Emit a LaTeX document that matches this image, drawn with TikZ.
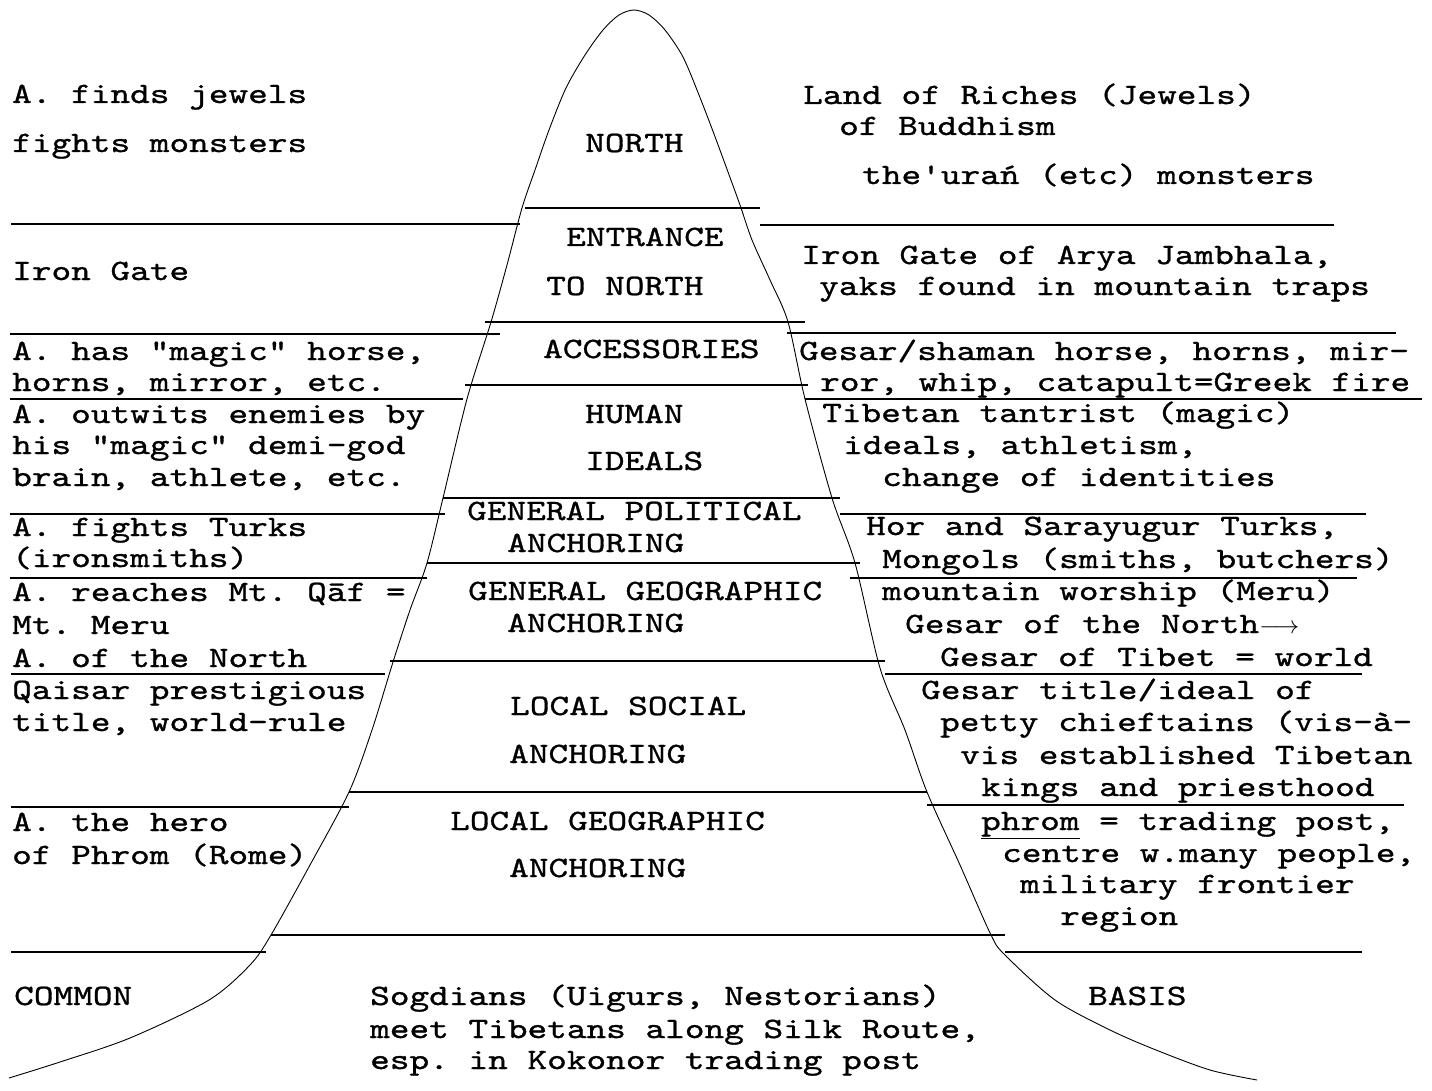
\documentclass[tikz,border=0pt]{standalone}
\usepackage{fontspec}
\newfontfamily\tw{lmmono10-regular.otf}[FakeStretch=1.27,FakeBold=1]
\begin{document}
\frenchspacing
\begin{tikzpicture}[x=1pt,y=-1pt,
  txt/.style={anchor=base west,inner sep=0pt,font=\tw\fontsize{29.5}{32}\selectfont},
  rule/.style={line width=1.6pt},
  bell/.style={line width=0.9pt,line join=round}]
\useasboundingbox (0,0) rectangle (1432,1091);
% bell curve
\draw[bell] plot[smooth,tension=0.5] coordinates{
 (9,1078) (60,1062) (130,1038) (209,1000) (250,965) (271,935) (310,865)
 (349,792) (372,730) (393,662) (410,610) (427,563) (443,498) (467,399)
 (491,322) (507,265) (522,208) (535,170) (549,130) (566,88) (585,55)
 (603,30) (619,15) (634,10) (649,15) (665,30) (683,57) (699,95)
 (714,134) (728,172) (740,205) (752,240) (770,280) (788,322)
 (805,399) (832,498) (855,563) (880,668) (905,730) (927,792) (960,865)
 (991,935) (1005,955) (1055,1000) (1110,1030) (1156,1050) (1210,1070) (1257,1080)};
% horizontal rules: left
\draw[rule] (11,224) -- (520,224);
\draw[rule] (10,334) -- (500,334);
\draw[rule] (10,399) -- (463,399);
\draw[rule] (10,514) -- (445,514);
\draw[rule] (10,578) -- (427,578);
\draw[rule] (11,674) -- (385,674);
\draw[rule] (11,807) -- (349,807);
\draw[rule] (11,952) -- (266,952);
% inner
\draw[rule] (525,208) -- (760,208);
\draw[rule] (485,322) -- (805,322);
\draw[rule] (465,385) -- (808,385);
\draw[rule] (443,498) -- (840,498);
\draw[rule] (427,563) -- (860,563);
\draw[rule] (390,661) -- (885,661);
\draw[rule] (349,792) -- (927,792);
\draw[rule] (271,935) -- (1005,935);
% right
\draw[rule] (760,225) -- (1334,225);
\draw[rule] (787,333) -- (1396,333);
\draw[rule] (805,399) -- (1422,399);
\draw[rule] (840,514) -- (1366,514);
\draw[rule] (850,578) -- (1357,578);
\draw[rule] (885,674) -- (1362,674);
\draw[rule] (927,805) -- (1404,805);
\draw[rule] (1005,952) -- (1362,952);
% left texts
\node[txt] (l1) at (12,103) {A. finds jewels};
\node[txt] (l2) at (12,152) {fights monsters};
\node[txt] (l3) at (12,280) {Iron Gate};
\node[txt] (l4) at (12,360) {A. has "magic" horse,};
\node[txt] (l5) at (12,391) {horns, mirror, etc.};
\node[txt] (l6) at (12,423) {A. outwits enemies by};
\node[txt] (l7) at (12,454) {his "magic" demi-god};
\node[txt] (l8) at (12,486) {brain, athlete, etc.};
\node[txt] (l9) at (12,536) {A. fights Turks};
\node[txt] (l10) at (12,567) {(ironsmiths)};
\node[txt] (l11) at (12,601) {A. reaches Mt. Qāf =};
\node[txt] (l12) at (12,634) {Mt. Meru};
\node[txt] (l13) at (12,667) {A. of the North};
\node[txt] (l14) at (12,699) {Qaisar prestigious};
\node[txt] (l15) at (12,731) {title, world-rule};
\node[txt] (l16) at (12,831) {A. the hero};
\node[txt] (l17) at (12,864) {of Phrom (Rome)};
\node[txt] (l18) at (14,1005) {COMMON};
% centre texts
\node[txt] (c1) at (585,152) {NORTH};
\node[txt] (c2) at (566,246) {ENTRANCE};
\node[txt] (c3) at (546,295) {TO NORTH};
\node[txt] (c4) at (543,358) {ACCESSORIES};
\node[txt] (c5) at (585,423) {HUMAN};
\node[txt] (c6) at (585,470) {IDEALS};
\node[txt] (c7) at (467,520) {GENERAL POLITICAL};
\node[txt] (c8) at (507,552) {ANCHORING};
\node[txt] (c9) at (468,600) {GENERAL GEOGRAPHIC};
\node[txt] (c10) at (507,632) {ANCHORING};
\node[txt] (c11) at (510,715) {LOCAL SOCIAL};
\node[txt] (c12) at (509,763) {ANCHORING};
\node[txt] (c13) at (450,830) {LOCAL GEOGRAPHIC};
\node[txt] (c14) at (509,877) {ANCHORING};
\node[txt] (c15) at (370,1005) {Sogdians (Uigurs, Nestorians)};
\node[txt] (c16) at (370,1038) {meet Tibetans along Silk Route,};
\node[txt] (c17) at (370,1069) {esp. in Kokonor trading post};
% right texts
\node[txt] (r1) at (803,104) {Land of Riches (Jewels)};
\node[txt] (r2) at (839,135) {of Buddhism};
\node[txt] (r3) at (862,184) {the'urań (etc) monsters};
\node[txt] (r4) at (801,264) {Iron Gate of Arya Jambhala,};
\node[txt] (r5) at (819,295) {yaks found in mountain traps};
\node[txt] (r6) at (799,360) {Gesar/shaman horse, horns, mir-};
\node[txt] (r7) at (820,391) {ror, whip, catapult=Greek fire};
\node[txt] (r8) at (822,422) {Tibetan tantrist (magic)};
\node[txt] (r9) at (843,454) {ideals, athletism,};
\node[txt] (r10) at (882,486) {change of identities};
\node[txt] (r11) at (866,535) {Hor and Sarayugur Turks,};
\node[txt] (r12) at (882,568) {Mongols (smiths, butchers)};
\node[txt] (r13) at (882,600) {mountain worship (Meru)};
\node[txt] (r14) at (905,633) {Gesar of the North$\longrightarrow$};
\node[txt] (r15) at (940,666) {Gesar of Tibet = world};
\node[txt] (r16) at (921,699) {Gesar title/ideal of};
\node[txt] (r17) at (940,731) {petty chieftains (vis-à-};
\node[txt] (r18) at (960,764) {vis established Tibetan};
\node[txt] (r19) at (981,796) {kings and priesthood};
\node[txt] (r20) at (981,830) {\underline{phrom} = trading post,};
\node[txt] (r21) at (1002,862) {centre w.many people,};
\node[txt] (r22) at (1020,893) {military frontier};
\node[txt] (r23) at (1060,925) {region};
\node[txt] (r24) at (1088,1005) {BASIS};
\end{tikzpicture}
\end{document}
